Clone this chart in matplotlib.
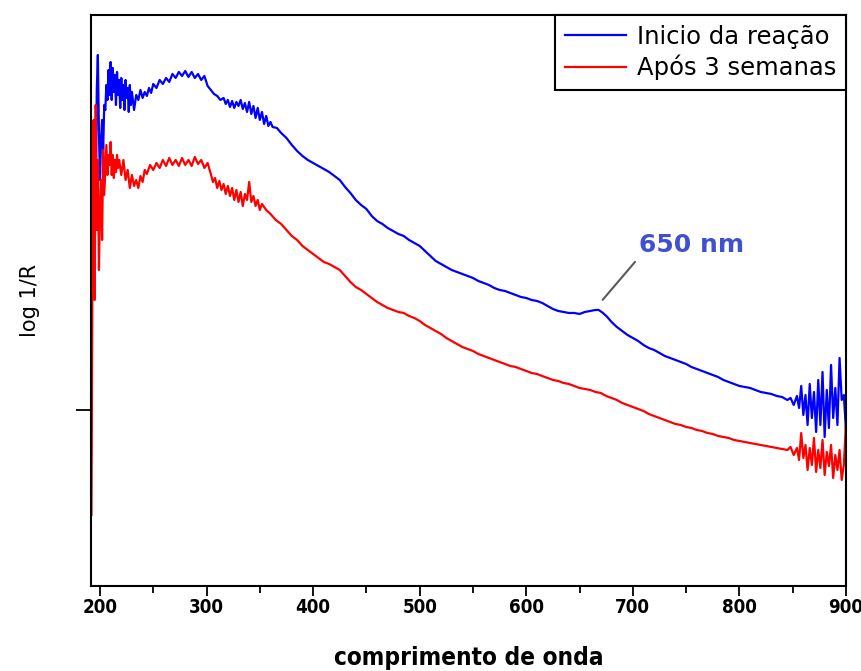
import numpy as np
import matplotlib
matplotlib.use("Agg")
import matplotlib.pyplot as plt

# wavelength (nm) and log 1/R (arbitrary units)
nm_blue = [192, 193, 194, 195, 196, 197, 198, 199, 200, 201,
           202, 203, 204, 205, 206, 207, 208, 209, 210, 211,
           212, 213, 214, 215, 216, 217, 218, 219, 220, 221,
           222, 223, 224, 225, 226, 227, 228, 229, 230, 232,
           234, 236, 238, 240, 242, 244, 246, 248, 250, 253,
           256, 259, 262, 265, 268, 271, 274, 277, 280, 283,
           286, 289, 292, 295, 298, 301, 304, 307, 310, 313,
           316, 318, 320, 322, 324, 326, 328, 330, 332, 334,
           336, 338, 340, 342, 344, 346, 348, 350, 352, 354,
           356, 358, 360, 362, 366, 370, 375, 380, 385, 390,
           395, 400, 405, 410, 415, 420, 425, 430, 435, 440,
           445, 450, 455, 460, 465, 470, 475, 480, 485, 490,
           495, 500, 505, 510, 515, 520, 525, 530, 535, 540,
           545, 550, 555, 560, 565, 570, 575, 580, 585, 590,
           595, 600, 605, 610, 615, 620, 625, 630, 635, 640,
           645, 650, 655, 660, 665, 668, 672, 676, 680, 685,
           690, 695, 700, 705, 710, 715, 720, 725, 730, 735,
           740, 745, 750, 755, 760, 765, 770, 775, 780, 785,
           790, 795, 800, 805, 810, 815, 820, 825, 830, 835,
           840, 845, 848, 851, 854, 856, 858, 860, 862, 864,
           866, 868, 870, 872, 874, 876, 878, 880, 882, 884,
           886, 888, 890, 892, 894, 896, 898, 900]
inicio = [269, 356, 306, 436, 376, 496, 531, 456, 406, 446,
          466, 436, 481, 476, 501, 486, 516, 491, 524, 486,
          518, 494, 511, 481, 514, 491, 506, 478, 508, 486,
          501, 476, 506, 488, 498, 474, 501, 481, 494, 476,
          491, 486, 496, 488, 494, 490, 498, 493, 502, 498,
          506, 502, 508, 504, 512, 508, 514, 510, 515, 509,
          514, 508, 512, 506, 510, 500, 496, 492, 490, 486,
          488, 482, 486, 479, 485, 478, 484, 480, 486, 477,
          483, 474, 484, 472, 480, 468, 478, 466, 474, 462,
          470, 460, 464, 459, 458, 453, 448, 441, 435, 430,
          426, 423, 420, 417, 414, 410, 406, 399, 393, 386,
          381, 377, 370, 365, 362, 358, 355, 352, 350, 346,
          343, 340, 335, 330, 325, 322, 319, 316, 314, 312,
          310, 308, 305, 303, 301, 298, 296, 295, 293, 291,
          289, 288, 286, 285, 283, 280, 277, 275, 274, 273,
          273, 272, 274, 275, 276, 276, 273, 269, 264, 259,
          255, 251, 248, 245, 241, 238, 236, 233, 230, 228,
          226, 224, 222, 219, 217, 215, 213, 211, 209, 206,
          204, 202, 200, 199, 198, 196, 194, 193, 192, 190,
          189, 186, 188, 181, 190, 178, 200, 171, 191, 161,
          202, 168, 194, 154, 206, 161, 214, 149, 196, 158,
          221, 168, 198, 161, 228, 186, 191, 156]

nm_red = [192, 193, 194, 195, 196, 197, 198, 199, 200, 201,
          202, 203, 204, 205, 206, 207, 208, 209, 210, 211,
          212, 213, 214, 215, 216, 217, 218, 220, 222, 224,
          226, 228, 230, 232, 234, 236, 238, 240, 242, 244,
          247, 250, 253, 256, 259, 262, 265, 268, 271, 274,
          277, 280, 283, 286, 289, 292, 295, 298, 301, 304,
          306, 308, 310, 312, 314, 316, 318, 320, 322, 324,
          326, 328, 330, 332, 334, 336, 338, 340, 342, 344,
          346, 348, 350, 352, 356, 360, 365, 370, 375, 380,
          385, 390, 395, 400, 405, 410, 415, 420, 425, 430,
          435, 440, 445, 450, 455, 460, 465, 470, 475, 480,
          485, 490, 495, 500, 505, 510, 515, 520, 525, 530,
          535, 540, 545, 550, 555, 560, 565, 570, 575, 580,
          585, 590, 595, 600, 605, 610, 615, 620, 625, 630,
          635, 640, 645, 650, 655, 660, 665, 670, 675, 680,
          685, 690, 695, 700, 705, 710, 715, 720, 725, 730,
          735, 740, 745, 750, 755, 760, 765, 770, 775, 780,
          785, 790, 795, 800, 805, 810, 815, 820, 825, 830,
          835, 840, 845, 848, 851, 854, 856, 858, 860, 862,
          864, 866, 868, 870, 872, 874, 876, 878, 880, 882,
          884, 886, 888, 890, 892, 894, 896, 898, 900]
apos3 = [71, 336, 466, 286, 481, 356, 426, 316, 376, 406,
         346, 436, 391, 416, 441, 411, 431, 421, 444, 411,
         431, 408, 426, 414, 431, 418, 426, 411, 426, 406,
         416, 398, 411, 400, 406, 398, 410, 404, 416, 412,
         421, 416, 423, 418, 426, 420, 428, 421, 426, 420,
         428, 421, 426, 420, 429, 422, 426, 418, 423, 412,
         404, 408, 398, 405, 396, 402, 392, 400, 390, 398,
         386, 396, 384, 394, 380, 392, 386, 404, 384, 390,
         380, 386, 376, 382, 376, 372, 366, 362, 356, 350,
         346, 340, 336, 332, 328, 324, 322, 319, 316, 310,
         304, 299, 296, 292, 288, 284, 281, 278, 276, 274,
         273, 270, 268, 265, 261, 258, 255, 252, 248, 245,
         242, 239, 237, 235, 232, 230, 228, 226, 224, 222,
         220, 219, 217, 215, 213, 212, 210, 208, 206, 205,
         203, 202, 200, 198, 197, 196, 194, 193, 190, 188,
         186, 183, 181, 179, 177, 175, 172, 170, 168, 166,
         164, 162, 161, 159, 158, 156, 155, 153, 152, 150,
         149, 148, 146, 145, 144, 143, 142, 141, 140, 139,
         138, 137, 136, 139, 131, 138, 126, 153, 128, 141,
         116, 138, 121, 148, 114, 136, 118, 146, 111, 134,
         120, 141, 108, 131, 116, 136, 106, 121, 163]

labels = ["Inicio da reação", "Após 3 semanas"]
xticks = [200, 300, 400, 500, 600, 700, 800, 900]

fig = plt.figure(figsize=(8.62, 6.71), dpi=100)
ax = fig.add_axes([0.1056, 0.1267, 0.8758, 0.851])

ax.plot(nm_blue, inicio, color="#0000ff", lw=1.6, label=labels[0])
ax.plot(nm_red, apos3, color="#ff0000", lw=1.6, label=labels[1])

ax.set_xlim(191.6, 900)
ax.set_ylim(0, 571)

ax.set_xticks(xticks)
ax.set_xticks(np.arange(250, 900, 100), minor=True)
ax.set_yticks([176])
ax.set_yticklabels([])
ax.tick_params(axis="x", which="major", direction="out", length=7, width=1.3, pad=1.5)
ax.tick_params(axis="x", which="minor", direction="out", length=5, width=1.3)
ax.tick_params(axis="y", direction="out", length=11, width=1.3)
for lab in ax.get_xticklabels():
    lab.set_fontfamily("DejaVu Sans")
    lab.set_fontstretch("condensed")
    lab.set_fontweight("bold")
    lab.set_fontsize(13.5)
for s in ax.spines.values():
    s.set_linewidth(1.5)

ax.set_xlabel("comprimento de onda", family="DejaVu Sans", fontstretch="condensed",
              fontweight="bold", fontsize=17.5, labelpad=21)
ax.set_ylabel("log 1/R", family="DejaVu Sans", fontsize=15, labelpad=22)

ax.annotate("650 nm", xy=(670, 284), xytext=(706, 341), ha="left", va="center",
            color="#4050d0", fontsize=18, fontweight="bold", family="DejaVu Sans",
            arrowprops=dict(arrowstyle="-", color="0.35", lw=1.5, relpos=(0, 0),
                            shrinkA=2, shrinkB=2))

leg = ax.legend(loc="upper right", borderaxespad=0, fancybox=False, framealpha=1,
                prop={"family": "DejaVu Sans", "size": 17.5},
                handlelength=2.5, handletextpad=0.45, labelspacing=0.25,
                borderpad=0.4)
leg.get_frame().set_edgecolor("black")
leg.get_frame().set_linewidth(1.5)

fig.savefig("out.png", dpi=100)
